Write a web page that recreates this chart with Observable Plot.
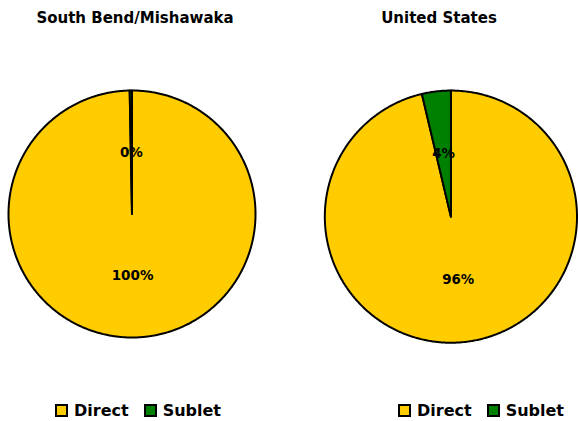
<!DOCTYPE html>
<html>
<head>
<meta charset="utf-8">
<script src="https://cdn.jsdelivr.net/npm/d3@7"></script>
<script src="https://cdn.jsdelivr.net/npm/@observablehq/plot@0.6"></script>
<style>
  html, body { margin: 0; padding: 0; background: #fff; overflow: hidden; }
  #root { position: relative; width: 578px; height: 421px; font-family: "DejaVu Sans", sans-serif; font-weight: bold; color: #000; }
  .title { position: absolute; top: 9px; font-size: 15px; text-align: center; white-space: nowrap; transform: translateX(-50%); }
  .chart { position: absolute; top: 30px; }
  .legend { position: absolute; top: 401px; display: flex; align-items: center; font-size: 16px; white-space: nowrap; }
  .sw { width: 9px; height: 9px; border: 2px solid #000; margin-right: 6px; }
  .item { display: flex; align-items: center; margin-right: 15px; }
</style>
</head>
<body>
<div id="root"></div>
<script>
const regions = ["South Bend/Mishawaka", "United States"];
const categories = ["Direct", "Sublet"];
const southBendValues = [99.7, 0.3];
const unitedStatesValues = [96.3, 3.7];
const seriesValues = [southBendValues, unitedStatesValues];
const colors = ["#FFCC00", "#008000"];

// layout of each pie (pixel frame of SVG and margins)
const layouts = [
  {left: 0, width: 264, height: 360, mt: 60, mb: 53, ml: 8, mr: 9, titleX: 135, legendX: 55},
  {left: 300, width: 280, height: 360, mt: 60.5, mb: 45.5, ml: 24.5, mr: 1.5, titleX: 439, legendX: 398}
];

const root = document.getElementById("root");

function slicesFor(values) {
  const arcs = d3.pie().sort(null)(values);
  const pts = [];
  const labels = [];
  arcs.forEach((a, i) => {
    const cat = categories[i];
    pts.push({slice: cat, x: 0, y: 0});
    const n = Math.max(2, Math.ceil((a.endAngle - a.startAngle) / (Math.PI / 360)));
    for (let k = 0; k <= n; k++) {
      const t = a.startAngle + (a.endAngle - a.startAngle) * k / n;
      pts.push({slice: cat, x: Math.sin(t), y: Math.cos(t)});
    }
    const mid = (a.startAngle + a.endAngle) / 2;
    labels.push({x: 0.5 * Math.sin(mid), y: 0.5 * Math.cos(mid), text: Math.round(values[i]) + "%"});
  });
  return {pts, labels};
}

regions.forEach((name, r) => {
  const L = layouts[r];
  const {pts, labels} = slicesFor(seriesValues[r]);

  const title = document.createElement("div");
  title.className = "title";
  title.style.left = L.titleX + "px";
  title.textContent = name;
  root.appendChild(title);

  const plot = Plot.plot({
    width: L.width,
    height: L.height,
    marginTop: L.mt, marginBottom: L.mb, marginLeft: L.ml, marginRight: L.mr,
    x: {domain: [-1, 1], axis: null},
    y: {domain: [-1, 1], axis: null},
    color: {domain: categories, range: colors},
    style: {fontFamily: "DejaVu Sans", background: "transparent", overflow: "visible"},
    marks: [
      Plot.line(pts, {x: "x", y: "y", z: "slice", fill: "slice", stroke: "#000", strokeWidth: 2, curve: "linear-closed"}),
      Plot.text(labels, {x: "x", y: "y", text: "text", fontSize: 13.5, fontWeight: "bold", fill: "#000"})
    ]
  });
  const wrap = document.createElement("div");
  wrap.className = "chart";
  wrap.style.left = L.left + "px";
  wrap.appendChild(plot);
  root.appendChild(wrap);

  const legend = document.createElement("div");
  legend.className = "legend";
  legend.style.left = L.legendX + "px";
  categories.forEach((c, i) => {
    const item = document.createElement("div");
    item.className = "item";
    const sw = document.createElement("div");
    sw.className = "sw";
    sw.style.background = colors[i];
    const tx = document.createElement("span");
    tx.textContent = c;
    item.appendChild(sw);
    item.appendChild(tx);
    legend.appendChild(item);
  });
  root.appendChild(legend);
});
</script>
</body>
</html>
